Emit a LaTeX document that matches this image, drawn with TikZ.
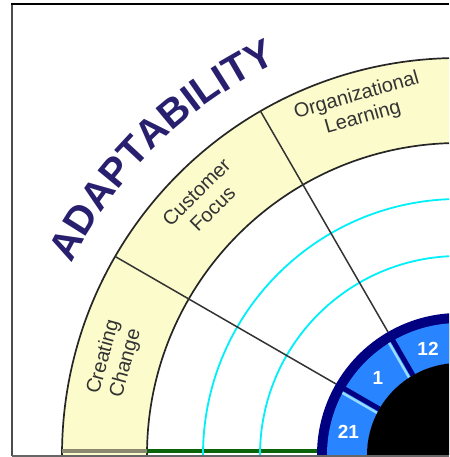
\documentclass[tikz,border=0pt]{standalone}
\usepackage{fontspec}
\setmainfont{Liberation Sans}
\usetikzlibrary{decorations.text}
\definecolor{bandyellow}{RGB}{252,251,204}
\definecolor{ringnavy}{RGB}{0,0,128}
\definecolor{segblue}{RGB}{40,132,255}
\definecolor{seglight}{RGB}{150,220,255}
\definecolor{titleblue}{RGB}{40,32,110}
\definecolor{axisgreen}{RGB}{10,100,10}
\definecolor{scalecyan}{RGB}{0,240,250}
\tikzset{
  quad_lbl/.style = {align=center, inner sep=0pt, text=black!80,
    font=\fontsize{20}{23}\selectfont},% libelle dans la bande jaune
  quad_num/.style = {inner sep=0pt, text=white,
    font=\fontsize{19}{19}\selectfont\bfseries},% numero dans l'anneau bleu
  quad_div/.style = {draw=black!80, line width=1.5pt},% separateur
  quad_arc/.style = {draw=scalecyan, line width=1.8pt}% cercle d'echelle
}
\begin{document}
\begin{tikzpicture}[x=1pt,y=1pt]
  \useasboundingbox (0,0) rectangle (449,457);
  \begin{scope}
    \clip (13,2) rectangle (449,452);
    \begin{scope}[shift={(459,2)}]
      % bande jaune
      \fill[bandyellow] (180:312) arc (180:90:312) -- (90:397) arc (90:180:397) -- cycle;
      \draw[black!85, line width=1.7pt] (180:312) arc (180:90:312);
      \draw[black!85, line width=1.7pt] (180:397) arc (180:90:397);
      \draw[black!45!bandyellow, line width=4pt] (-397,4) -- (-312,4);
      \draw[axisgreen, line width=4pt] (-312,4) -- (-142,4);
      % cercles
      \draw[quad_arc] (180:256) arc (180:90:256);
      \draw[quad_arc] (180:199) arc (180:90:199);
      \draw[quad_div] (150:397) -- (150:142);
      \draw[quad_div] (120:397) -- (120:142);
      % anneau
      \fill[ringnavy] (180:142) arc (180:90:142) -- (90:92) arc (90:180:92) -- cycle;
      \fill[segblue] (180:132) arc (180:90:132) -- (90:92) arc (90:180:92) -- cycle;
      \foreach \a in {150,120} {
        \begin{scope}[rotate=\a]
          \draw[ringnavy, line width=5pt] (92,0) -- (137,0);
          \draw[seglight, line width=2.5pt] (92,4.5) -- (132,4.5);
        \end{scope}
      }
      \fill[black] (0,0) circle (92);

      \path[decorate, decoration={text along path, text align=center,
        text={|\color{titleblue}\fontsize{40}{40}\selectfont\bfseries|ADAPTABILITY}}]
        (165:432) arc (165:103.6:432);

      \node[quad_lbl, rotate=74.6] (CC) at (164.6:357) {Creating\\Change};
      \node[quad_lbl, rotate=45] (CF) at (135:360) {Customer\\Focus};
      \node[quad_lbl, rotate=15.9] (OL) at (105.9:362) {Organizational\\Learning};

      \node[quad_num] (N21) at (168.3:113) {21};
      \node[quad_num] (N1) at (136.4:112) {1};
      \node[quad_num] (N12) at (106.2:111) {12};
    \end{scope}
  \end{scope}
  % cadre
  \draw[black!70, line width=2pt] (12,1) -- (12,453.5);
  \draw[black, line width=2pt] (11,452.7) -- (449,452.7);
  \draw[black!60, line width=1.5pt] (12,1.2) -- (449,1.2);
\end{tikzpicture}
\end{document}
